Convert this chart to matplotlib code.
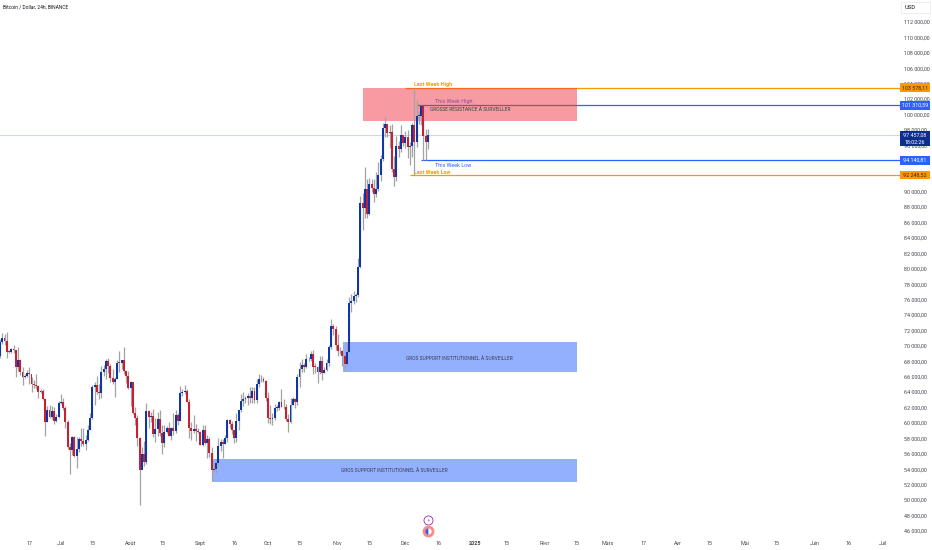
import matplotlib
matplotlib.use('Agg')
import matplotlib.pyplot as plt
import matplotlib.dates as mdates
from matplotlib.patches import Rectangle
from matplotlib.transforms import ScaledTranslation
import pandas as pd

closes = [
    70567, 71082, 70757, 69355, 69310, 69648, 69500, 67320, 68240, 66750, 66010, 66190, 66640, 66490, 65150,
    64960, 64830, 64100, 64250, 63180, 60280, 61800, 60860, 61680, 60320, 60890, 62680,
    62770, 62020, 60200, 57040, 56630, 58230, 55850, 56710, 58040, 57720, 57340, 57900, 59220, 60790, 64720,
    65040, 64090, 63980, 66680, 67150, 68160, 67530, 65930, 65370, 65770, 67910, 67900, 68250, 66780, 66190, 64620,
    65360, 61410, 60680, 58120, 53990, 56030, 55030, 61710, 60880, 60940, 58710, 59350, 60600, 58740, 57560,
    58870, 59480, 58440, 59490, 59010, 61160, 60380, 64040, 64160, 64220, 62830, 59420, 59030, 59370, 59120, 58970,
    57300, 59130, 57480, 57970, 56160, 53950, 54160, 54880, 57050, 57650, 57340, 58130, 60500, 60000, 59130,
    58210, 60310, 61760, 62950, 63200, 63350, 63580, 63330, 64260, 63140, 65180, 65770, 65860, 65600, 63330,
    60800, 60650, 60750, 62080, 62090, 62820, 62220, 62130, 60580, 60270, 62450, 63200, 62850, 66050, 67040,
    67610, 67420, 68420, 68360, 69000, 67370, 67360, 66650, 68160, 66630, 67010, 67930, 69900, 72730, 72330, 70210,
    69480, 69370, 68780, 67800, 69360, 75640, 75900, 76540, 76680, 80370, 88650, 87950, 90380, 87250, 91060,
    90580, 89850, 90460, 92310, 94290, 98350, 98890, 97670, 97900, 93010, 91960, 95960, 95640, 97460, 96410,
    97190, 95840, 96000, 98770, 96590, 99920, 99920, 101170, 97360, 96600, 97457,
]
highs = [
    71050, 71760, 71650, 71950, 69570, 69850, 70150, 69560, 70000, 68370, 67300, 66400, 66980, 67300, 66080,
    65730, 66480, 65080, 64520, 64500, 63370, 62350, 62480, 62300, 62200, 61200, 63000,
    63850, 63280, 62300, 60500, 57500, 58470, 58380, 58240, 58300, 59450, 59450, 58550, 59850, 61420, 65000,
    65390, 66130, 65100, 67450, 67600, 68380, 68480, 67800, 67100, 66110, 68250, 69400, 68320, 70000, 66990, 66800,
    65590, 65000, 62150, 61100, 58300, 57000, 57700, 62730, 61750, 61470, 61850, 60700, 61570, 61800, 59850,
    59800, 59700, 60250, 59620, 61400, 61800, 61400, 64950, 64500, 65000, 64490, 63200, 60230, 61170, 59900, 59460,
    59050, 59800, 59800, 58500, 58320, 57000, 54850, 55300, 58100, 58050, 58000, 58600, 60650, 60660, 60400,
    59210, 61330, 61800, 63870, 64130, 63560, 63990, 64750, 64700, 64820, 65840, 66500, 66260, 66080, 65650,
    64150, 62400, 61450, 62500, 62370, 63000, 64480, 63200, 62500, 61320, 63400, 63480, 63280, 66500, 67950,
    68380, 67900, 69000, 68670, 69400, 69500, 67830, 67470, 68800, 68750, 67300, 68330, 70270, 73620, 72900, 72700,
    71600, 69920, 69500, 69000, 70580, 76400, 76800, 77200, 76950, 81500, 89530, 89950, 93260, 91780, 91850,
    91760, 91700, 92600, 94000, 94900, 98980, 99800, 98800, 98700, 98900, 94750, 97300, 96650, 98700, 97500,
    98000, 98100, 96500, 99000, 103600, 102000, 100550, 101340, 101200, 98270, 98200,
]
lows = [
    68560, 70400, 70150, 68500, 69200, 69130, 69220, 66050, 66900, 66300, 65080, 65880, 66100, 65100, 64060,
    64690, 64550, 63380, 63940, 63120, 58400, 60250, 60720, 60580, 60000, 60260, 60760,
    62500, 61780, 59400, 56770, 53500, 56000, 55720, 54260, 56300, 57150, 57050, 56550, 57770, 59220, 60630,
    62400, 63900, 63220, 63300, 66200, 65800, 66570, 65440, 65100, 63450, 65750, 66700, 67070, 66500, 65300, 64500,
    62250, 61200, 59800, 57100, 49500, 54200, 54550, 54750, 59500, 60250, 58300, 57650, 58450, 58430, 56080,
    56980, 58800, 58400, 57870, 58600, 58800, 59800, 60350, 63600, 63800, 62800, 58100, 57870, 58750, 57700, 58750,
    57200, 57120, 57420, 55600, 55620, 52550, 53750, 53650, 54600, 56400, 55550, 57320, 57630, 59450, 58700,
    57500, 57650, 59200, 61570, 62350, 62750, 62400, 62700, 62700, 62700, 62670, 64800, 65420, 65420, 62900,
    60150, 60000, 59830, 60460, 61680, 61800, 62130, 61860, 60350, 58900, 60060, 62420, 62000, 62420, 64800,
    66750, 66680, 67170, 68100, 68100, 66500, 66570, 65260, 66450, 65730, 66550, 66800, 67500, 69730, 71450, 69600,
    68800, 69000, 67450, 66800, 67450, 69320, 74500, 75560, 75750, 76500, 80220, 85070, 86620, 86650, 87100,
    90100, 88700, 89400, 90200, 91500, 94050, 97200, 97200, 95750, 92600, 90770, 91500, 94650, 95300, 96000,
    95700, 94500, 93580, 94650, 92250, 95950, 98900, 98800, 94150, 94250, 95650,
]
first_open = 68800
opens = [first_open] + closes[:-1]

tick_dates = ['2024-06-17', '2024-07-01', '2024-07-15', '2024-08-01', '2024-08-15', '2024-09-01', '2024-09-16',
              '2024-10-01', '2024-10-15', '2024-11-01', '2024-11-15', '2024-12-01', '2024-12-16', '2025-01-01',
              '2025-01-15', '2025-02-01', '2025-02-15', '2025-03-01', '2025-03-17', '2025-04-01', '2025-04-15',
              '2025-05-01', '2025-05-15', '2025-06-01', '2025-06-16', '2025-07-01']
tick_labels = ['17', 'Juil', '15', 'Août', '15', 'Sept', '16', 'Oct', '15', 'Nov', '15', 'Déc', '16', '2025',
               '15', 'Févr', '15', 'Mars', '17', 'Avr', '15', 'Mai', '15', 'Juin', '16', 'Juil']
# 92 000 and 94 000 sit behind the price tags in the original
price_ticks = [46000, 48000, 50000, 52000, 54000, 56000, 58000, 60000, 62000, 64000, 66000, 68000, 70000, 72000,
               74000, 76000, 78000, 80000, 82000, 84000, 86000, 88000, 90000, 96000, 98000, 100000, 102000,
               104000, 106000, 108000, 110000, 112000]

zone_starts = ['2024-11-12 05:00', '2024-11-03 08:00', '2024-09-06 03:00']
zone_ends = ['2025-02-15 06:00', '2025-02-15 06:00', '2025-02-15 06:00']
zone_lows = [99260, 66700, 52440]
zone_highs = [103540, 70600, 55420]
zone_labels = ['GROSSE RÉSISTANCE À SURVEILLER', 'GROS SUPPORT INSTITUTIONNEL À SURVEILLER',
               'GROS SUPPORT INSTITUTIONNEL À SURVEILLER']
zone_label_dates = ['2024-12-30', '2024-12-25', '2024-11-26']
zone_label_prices = [100720, 68500, 53880]

level_prices = [103578.11, 101310.59, 94140.81, 92248.52]
level_starts = ['2024-12-01', '2024-12-06', '2024-12-08', '2024-12-03']
level_tags = ['103 578,11', '101 310,59', '94 140,81', '92 248,52']
level_names = ['Last Week High', 'This Week High', 'This Week Low', 'Last Week Low']
level_name_dates = ['2024-12-05', '2024-12-14', '2024-12-14', '2024-12-05']
level_name_prices = [104060, 101850, 93440, 92620]

last_price = 97457.08
last_text = '97 457,08'
countdown = '18:02:26'

ORANGE = '#ff9800'
BLUE = '#2962ff'
UP = '#0b37a8'
DOWN = '#c8202f'
WICK = '#a3a3a3'
LABEL = '#434651'
FONT = 'Roboto'
SMALL = 3.9
PX_PER_DAY = 2.252

plt.rcParams['font.family'] = [FONT, 'DejaVu Sans']

dates = pd.date_range('2024-06-04', periods=len(closes))
x = mdates.date2num(dates)


def num(day):
    return mdates.date2num(pd.Timestamp(day))


fig = plt.figure(figsize=(9.32, 5.5), dpi=100)
ax = fig.add_axes([0, 14 / 550, 900 / 932, 536 / 550])
ax.set_xlim(num('2024-07-01') - 60.8 / PX_PER_DAY, num('2024-07-01') + 839.2 / PX_PER_DAY)
ax.set_ylim(45437, 114957)
for side in ax.spines:
    ax.spines[side].set_visible(False)

# levels sit under the zones so they tint, like on the chart
for i in range(len(level_prices)):
    color = ORANGE if 'Last' in level_names[i] else BLUE
    ax.hlines(level_prices[i], num(level_starts[i]), ax.get_xlim()[1], color=color, lw=0.9, zorder=1)
    ax.text(num(level_name_dates[i]), level_name_prices[i], level_names[i], color=color, fontsize=SMALL,
            fontweight='bold' if 'Last' in level_names[i] else 'normal', va='center', zorder=1)
ax.axhline(last_price, color='#ced6ec', lw=0.8, zorder=1)

for i in range(len(zone_starts)):
    color = '#f23645' if i == 0 else BLUE
    ax.add_patch(Rectangle((num(zone_starts[i]), zone_lows[i]), num(zone_ends[i]) - num(zone_starts[i]),
                           zone_highs[i] - zone_lows[i], facecolor=color, alpha=0.5, edgecolor='none', zorder=2))
    ax.text(num(zone_label_dates[i]), zone_label_prices[i], zone_labels[i], color='#3c3c4c', fontsize=3.5,
            ha='center', va='center', zorder=2)

colors = [UP if c >= o else DOWN for o, c in zip(opens, closes)]
bottoms = [min(o, c) for o, c in zip(opens, closes)]
heights = [max(abs(c - o), 90) for o, c in zip(opens, closes)]
ax.vlines(x, lows, highs, color=WICK, lw=0.9, zorder=3)
ax.bar(x, heights, bottom=bottoms, width=0.85, color=colors, linewidth=0, zorder=4)

ax.set_xticks([num(d) for d in tick_dates])
ax.set_xticklabels(tick_labels, fontsize=SMALL, color=LABEL)
for lab in ax.get_xticklabels():
    if lab.get_text() == '2025':
        lab.set_fontweight('bold')
ax.set_yticks(price_ticks)
ax.set_yticklabels([f"{p:,.2f}".replace(',', ' ').replace('.', ',') for p in price_ticks],
                   fontsize=SMALL, color=LABEL)
ax.yaxis.tick_right()
ax.tick_params(axis='both', length=0)
ax.tick_params(axis='x', pad=3.7)
ax.tick_params(axis='y', pad=3)

# the scale text sits a bit above the price it names
nudge = ScaledTranslation(0, 0.008, fig.dpi_scale_trans)
for tick in ax.yaxis.get_major_ticks():
    tick.label2.set_transform(tick.label2.get_transform() + nudge)

# price tags on the scale
ytrans = ax.get_yaxis_transform()
for i in range(len(level_prices)):
    color = ORANGE if 'Last' in level_names[i] else BLUE
    ax.add_patch(Rectangle((1.0, level_prices[i] - 560), 0.033, 1120, transform=ytrans, facecolor=color,
                           edgecolor='none', clip_on=False, zorder=6))
    ax.text(1.0165, level_prices[i], level_tags[i], transform=ytrans, fontsize=SMALL,
            color='#3a2400' if color == ORANGE else 'white', ha='center', va='center', zorder=7)
ax.add_patch(Rectangle((1.0, last_price - 1430), 0.033, 1950, transform=ytrans, facecolor='#0d2e8c',
                       edgecolor='none', clip_on=False, zorder=6))
ax.text(1.0165, last_price, last_text, transform=ytrans, fontsize=SMALL, color='white', ha='center', va='center', zorder=7)
ax.text(1.0165, last_price - 920, countdown, transform=ytrans, fontsize=SMALL, color='white', ha='center', va='center', zorder=7)

fig.add_artist(Rectangle((901 / 932, 1 - 13 / 550), 29 / 932, 11 / 550, transform=fig.transFigure,
                         facecolor='white', edgecolor='#e6e6e6', lw=0.5))
fig.text(905 / 932, 1 - 7.7 / 550, 'USD', fontsize=4.2, color='#131722', va='center')
fig.text(3 / 932, 1 - 7 / 550, 'Bitcoin / Dollar, 24h, BINANCE', fontsize=3.5, color='#131722', va='center')

# event icons under the last candle
ax.plot(x[-1], 47510, 'o', ms=6.5, mfc='white', mec='#9c27b0', mew=0.6, zorder=5)
ax.text(x[-1], 47510, '⚡', fontsize=3.5, color='#7b3fa0', ha='center', va='center', family=['DejaVu Sans'], zorder=6)
ax.plot(x[-1], 46080, 'o', ms=7.5, mfc='#ff8a80', mec='#ff8a80', clip_on=False, zorder=5)
ax.plot(x[-1], 46080, 'o', ms=4.5, fillstyle='left', mfc='#2962ff', mfcalt='white', mew=0, clip_on=False, zorder=6)

fig.savefig('out.png', dpi=100, facecolor='white')
print(len(closes), len(highs), len(lows), dates[-1])
